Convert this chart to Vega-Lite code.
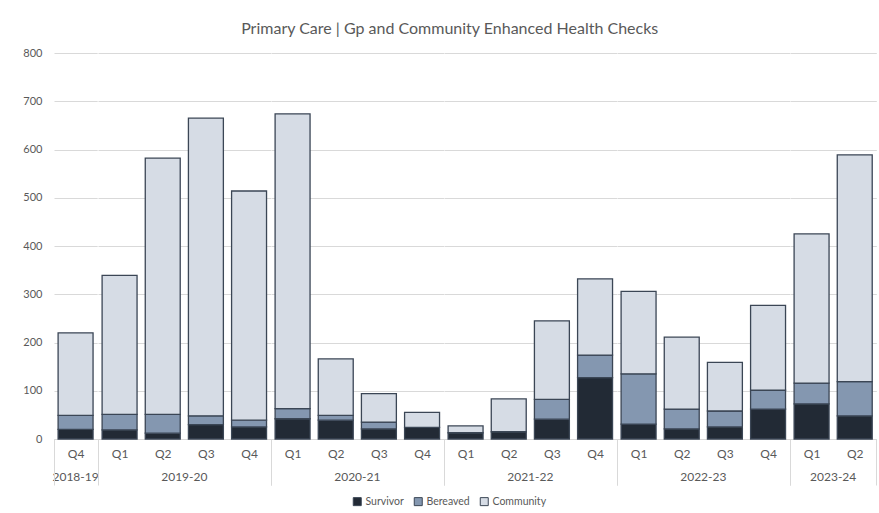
{
  "$schema": "https://vega.github.io/schema/vega-lite/v6.json",
  "background": "white",
  "padding": {"left": 22, "top": 21, "right": 5, "bottom": 5},
  "title": {"text": "Primary Care | Gp and Community Enhanced Health Checks", "font": "Lato", "fontSize": 16, "fontWeight": "normal", "color": "#595959", "anchor": "middle", "offset": 10},
  "config": {"view": {"stroke": null}, "font": "Lato", "legend": {"layout": {"bottom": {"anchor": "middle"}}}},
  "data": {"values": [
    {"year": "2018-19", "quarter": "Q4", "type": "Survivor", "count": 20},
    {"year": "2018-19", "quarter": "Q4", "type": "Bereaved", "count": 29},
    {"year": "2018-19", "quarter": "Q4", "type": "Community", "count": 171},
    {"year": "2019-20", "quarter": "Q1", "type": "Survivor", "count": 19},
    {"year": "2019-20", "quarter": "Q1", "type": "Bereaved", "count": 32},
    {"year": "2019-20", "quarter": "Q1", "type": "Community", "count": 288},
    {"year": "2019-20", "quarter": "Q2", "type": "Survivor", "count": 12},
    {"year": "2019-20", "quarter": "Q2", "type": "Bereaved", "count": 39},
    {"year": "2019-20", "quarter": "Q2", "type": "Community", "count": 531},
    {"year": "2019-20", "quarter": "Q3", "type": "Survivor", "count": 30},
    {"year": "2019-20", "quarter": "Q3", "type": "Bereaved", "count": 18},
    {"year": "2019-20", "quarter": "Q3", "type": "Community", "count": 617},
    {"year": "2019-20", "quarter": "Q4", "type": "Survivor", "count": 25},
    {"year": "2019-20", "quarter": "Q4", "type": "Bereaved", "count": 14},
    {"year": "2019-20", "quarter": "Q4", "type": "Community", "count": 475},
    {"year": "2020-21", "quarter": "Q1", "type": "Survivor", "count": 42},
    {"year": "2020-21", "quarter": "Q1", "type": "Bereaved", "count": 21},
    {"year": "2020-21", "quarter": "Q1", "type": "Community", "count": 611},
    {"year": "2020-21", "quarter": "Q2", "type": "Survivor", "count": 39},
    {"year": "2020-21", "quarter": "Q2", "type": "Bereaved", "count": 10},
    {"year": "2020-21", "quarter": "Q2", "type": "Community", "count": 117},
    {"year": "2020-21", "quarter": "Q3", "type": "Survivor", "count": 21},
    {"year": "2020-21", "quarter": "Q3", "type": "Bereaved", "count": 14},
    {"year": "2020-21", "quarter": "Q3", "type": "Community", "count": 59},
    {"year": "2020-21", "quarter": "Q4", "type": "Survivor", "count": 24},
    {"year": "2020-21", "quarter": "Q4", "type": "Community", "count": 31},
    {"year": "2021-22", "quarter": "Q1", "type": "Survivor", "count": 13},
    {"year": "2021-22", "quarter": "Q1", "type": "Community", "count": 14},
    {"year": "2021-22", "quarter": "Q2", "type": "Survivor", "count": 15},
    {"year": "2021-22", "quarter": "Q2", "type": "Community", "count": 68},
    {"year": "2021-22", "quarter": "Q3", "type": "Survivor", "count": 41},
    {"year": "2021-22", "quarter": "Q3", "type": "Bereaved", "count": 41},
    {"year": "2021-22", "quarter": "Q3", "type": "Community", "count": 163},
    {"year": "2021-22", "quarter": "Q4", "type": "Survivor", "count": 127},
    {"year": "2021-22", "quarter": "Q4", "type": "Bereaved", "count": 47},
    {"year": "2021-22", "quarter": "Q4", "type": "Community", "count": 158},
    {"year": "2022-23", "quarter": "Q1", "type": "Survivor", "count": 31},
    {"year": "2022-23", "quarter": "Q1", "type": "Bereaved", "count": 104},
    {"year": "2022-23", "quarter": "Q1", "type": "Community", "count": 171},
    {"year": "2022-23", "quarter": "Q2", "type": "Survivor", "count": 21},
    {"year": "2022-23", "quarter": "Q2", "type": "Bereaved", "count": 41},
    {"year": "2022-23", "quarter": "Q2", "type": "Community", "count": 149},
    {"year": "2022-23", "quarter": "Q3", "type": "Survivor", "count": 25},
    {"year": "2022-23", "quarter": "Q3", "type": "Bereaved", "count": 33},
    {"year": "2022-23", "quarter": "Q3", "type": "Community", "count": 101},
    {"year": "2022-23", "quarter": "Q4", "type": "Survivor", "count": 62},
    {"year": "2022-23", "quarter": "Q4", "type": "Bereaved", "count": 39},
    {"year": "2022-23", "quarter": "Q4", "type": "Community", "count": 176},
    {"year": "2023-24", "quarter": "Q1", "type": "Survivor", "count": 73},
    {"year": "2023-24", "quarter": "Q1", "type": "Bereaved", "count": 43},
    {"year": "2023-24", "quarter": "Q1", "type": "Community", "count": 309},
    {"year": "2023-24", "quarter": "Q2", "type": "Survivor", "count": 48},
    {"year": "2023-24", "quarter": "Q2", "type": "Bereaved", "count": 71},
    {"year": "2023-24", "quarter": "Q2", "type": "Community", "count": 470}
  ]},
  "transform": [{"calculate": "indexof(['Survivor', 'Bereaved', 'Community'], datum.type)", "as": "stackOrder"}],
  "facet": {"column": {"field": "year", "type": "ordinal", "header": {"title": null, "labelOrient": "bottom", "labelFont": "Lato", "labelFontSize": 12, "labelColor": "#595959", "labelPadding": 33}}},
  "spacing": 0,
  "bounds": "flush",
  "resolve": {"scale": {"x": "independent"}},
  "spec": {
    "width": {"step": 43.16},
    "height": 386,
    "mark": {"type": "bar", "stroke": "#3b4655", "strokeWidth": 1.3, "width": {"band": 0.81}},
    "encoding": {
      "x": {"field": "quarter", "type": "nominal", "scale": {"paddingInner": 0, "paddingOuter": 0},
        "axis": {"title": null, "labelAngle": 0, "labelFont": "Lato", "labelFontSize": 12, "labelColor": "#595959", "tickBand": "extent", "tickSize": 46, "tickColor": {"condition": {"test": "datum.index == 1 || datum.index < 0 || datum.extra", "value": "#d9d9d9"}, "value": "transparent"}, "domainColor": "#d9d9d9", "labelPadding": -37}},
      "y": {"field": "count", "type": "quantitative", "stack": "zero", "scale": {"domain": [0, 800]},
        "axis": {"title": null, "values": [0, 100, 200, 300, 400, 500, 600, 700, 800], "domain": false, "ticks": false, "gridColor": "#d9d9d9", "labelPadding": 12, "labelFont": "Lato", "labelFontSize": 11, "labelColor": "#595959"}},
      "color": {"field": "type", "type": "nominal",
        "scale": {"domain": ["Survivor", "Bereaved", "Community"], "range": ["#222a35", "#8497b0", "#d6dce5"]},
        "legend": {"title": null, "orient": "bottom", "direction": "horizontal", "symbolType": "square", "symbolStrokeColor": "#3b4655", "symbolStrokeWidth": 1, "symbolSize": 64, "labelFont": "Lato", "labelFontSize": 10.5, "labelColor": "#595959", "labelOffset": 3, "columnPadding": 8, "offset": 10}},
      "order": {"field": "stackOrder", "type": "quantitative"}
    }
  }
}
